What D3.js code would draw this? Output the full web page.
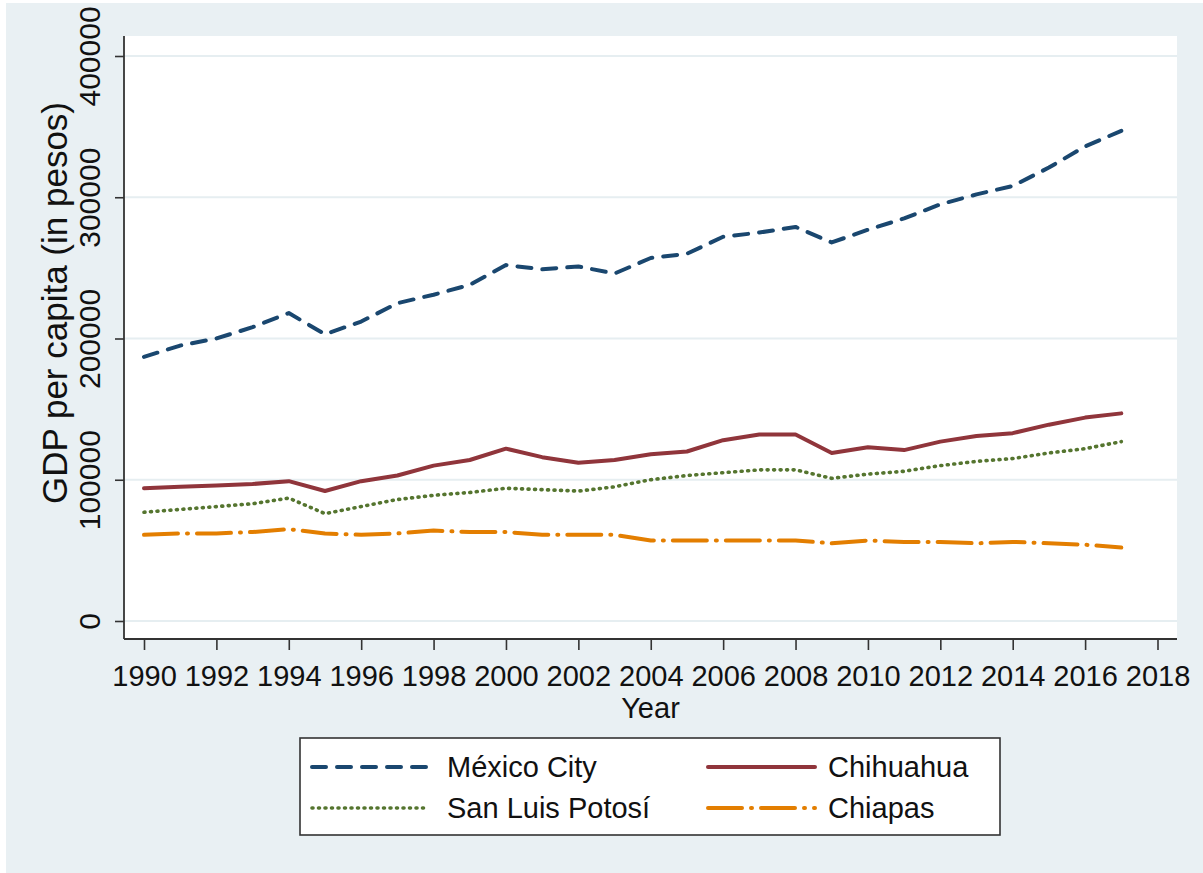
<!DOCTYPE html>
<html>
<head>
<meta charset="utf-8">
<script src="https://cdn.jsdelivr.net/npm/d3@7"></script>
<style>
  body { margin: 0; background: #fff; }
  text { font-family: "Liberation Sans", Arial, sans-serif; fill: #111; }
</style>
</head>
<body>
<div id="vis"></div>
<script>
'use strict'

// years on the x axis
const years = d3.range(1990, 2018)

// GDP per capita (pesos)
const mexico_city = [187000, 195000, 200000, 208000, 218000, 203000, 212000, 225000, 231000, 238000,
  252000, 249000, 251000, 246000, 257000, 260000, 272000, 275000, 279000, 268000,
  277000, 285000, 295000, 302000, 308000, 321000, 336000, 347000]
const chihuahua = [94000, 95000, 96000, 97000, 99000, 92000, 99000, 103000, 110000, 114000,
  122000, 116000, 112000, 114000, 118000, 120000, 128000, 132000, 132000, 119000,
  123000, 121000, 127000, 131000, 133000, 139000, 144000, 147000]
const san_luis = [77000, 79000, 81000, 83000, 87000, 76000, 81000, 86000, 89000, 91000,
  94000, 93000, 92000, 95000, 100000, 103000, 105000, 107000, 107000, 101000,
  104000, 106000, 110000, 113000, 115000, 119000, 122000, 127000]
const chiapas = [61000, 62000, 62000, 63000, 65000, 62000, 61000, 62000, 64000, 63000,
  63000, 61000, 61000, 61000, 57000, 57000, 57000, 57000, 57000, 55000,
  57000, 56000, 56000, 55000, 56000, 55000, 54000, 52000]

const y_ticks = [0, 100000, 200000, 300000, 400000]
const x_ticks = d3.range(1990, 2019, 2)

const series_names = ["México City", "Chihuahua", "San Luis Potosí", "Chiapas"]

function wrapper(){
  let width = 1203
  let height = 873

  let svg = d3.select("#vis").append("svg")
    .attr("width", width)
    .attr("height", height)

  // outer graph region
  svg.append("rect")
    .attr("x", 6).attr("y", 3)
    .attr("width", width - 6).attr("height", height - 3)
    .attr("fill", "#e9f0f3")

  let plot_left = 124, plot_right = 1177, plot_top = 36, plot_bottom = 639

  let x = d3.scaleLinear().domain([1990, 2018]).range([144, 1157.5])
  let y = d3.scaleLinear().domain([0, 400000]).range([621, 56])

  svg.append("rect")
    .attr("x", plot_left).attr("y", plot_top)
    .attr("width", plot_right - plot_left).attr("height", plot_bottom - plot_top)
    .attr("fill", "#fff")

  // grid lines
  svg.append("g").selectAll("line")
    .data(y_ticks)
    .join("line")
    .attr("x1", plot_left).attr("x2", plot_right)
    .attr("y1", d => y(d)).attr("y2", d => y(d))
    .attr("stroke", "#e6eef1")
    .attr("stroke-width", 2)

  // y axis
  let yAxis = svg.append("g")
    .attr("transform", "translate(" + plot_left + ",0)")
    .call(d3.axisLeft(y).tickValues(y_ticks).tickSize(9).tickFormat(d3.format("d")))
  yAxis.select(".domain").remove()
  yAxis.selectAll(".tick line").attr("stroke", "#333").attr("stroke-width", 1.6)
  yAxis.selectAll(".tick text")
    .attr("x", 0).attr("y", 0).attr("dy", null)
    .attr("transform", "translate(-24,0) rotate(-90)")
    .attr("text-anchor", "middle")
    .style("font-family", "Liberation Sans, Arial, sans-serif")
    .style("font-size", "30px")
    .attr("fill", "#111")

  // x axis
  let xAxis = svg.append("g")
    .attr("transform", "translate(0," + plot_bottom + ")")
    .call(d3.axisBottom(x).tickValues(x_ticks).tickSize(11).tickFormat(d3.format("d")))
  xAxis.select(".domain").remove()
  xAxis.selectAll(".tick line").attr("stroke", "#333").attr("stroke-width", 1.6)
  xAxis.selectAll(".tick text")
    .attr("y", 47).attr("dy", null)
    .style("font-family", "Liberation Sans, Arial, sans-serif")
    .style("font-size", "29px")
    .attr("fill", "#111")

  // axis lines
  svg.append("line")
    .attr("x1", plot_left).attr("x2", plot_left)
    .attr("y1", plot_top).attr("y2", plot_bottom)
    .attr("stroke", "#333").attr("stroke-width", 1.8)
  svg.append("line")
    .attr("x1", plot_left).attr("x2", plot_right)
    .attr("y1", plot_bottom).attr("y2", plot_bottom)
    .attr("stroke", "#333").attr("stroke-width", 1.8)

  // axis titles
  svg.append("text")
    .attr("transform", "translate(67,303) rotate(-90)")
    .attr("text-anchor", "middle")
    .style("font-size", "35px")
    .text("GDP per capita (in pesos)")

  svg.append("text")
    .attr("x", (plot_left + plot_right) / 2)
    .attr("y", 718)
    .attr("text-anchor", "middle")
    .style("font-size", "29px")
    .text("Year")

  const styles = {
    "México City": {values: mexico_city, color: "#1a476f", dash: "14,11", w: 4},
    "Chihuahua": {values: chihuahua, color: "#90353b", dash: null, w: 4},
    "San Luis Potosí": {values: san_luis, color: "#55752f", dash: "1,5.5", w: 3.6},
    "Chiapas": {values: chiapas, color: "#e37e00", dash: "34,9,1,9", w: 4}
  }

  let line = d3.line()
    .x((d, i) => x(years[i]))
    .y(d => y(d))

  svg.append("g").selectAll("path")
    .data(["Chiapas", "San Luis Potosí", "Chihuahua", "México City"])
    .join("path")
    .attr("d", d => line(styles[d].values))
    .attr("fill", "none")
    .attr("stroke", d => styles[d].color)
    .attr("stroke-width", d => styles[d].w)
    .attr("stroke-dasharray", d => styles[d].dash)
    .attr("stroke-linecap", "round")
    .attr("stroke-linejoin", "round")

  // legend
  let legend = svg.append("g")
  legend.append("rect")
    .attr("x", 300).attr("y", 738)
    .attr("width", 700).attr("height", 97)
    .attr("fill", "#fff")
    .attr("stroke", "#333")
    .attr("stroke-width", 1.6)

  let cols = [[312, 428, 447], [708, 815, 828]]
  let rows = [767, 808]

  let items = legend.selectAll(".item")
    .data(series_names)
    .join("g")
    .attr("class", "item")
    .attr("transform", function(d, i){
      return "translate(0," + rows[Math.floor(i / 2)] + ")"
    })

  items.append("line")
    .attr("x1", (d, i) => cols[i % 2][0])
    .attr("x2", (d, i) => cols[i % 2][1])
    .attr("y1", 0).attr("y2", 0)
    .attr("stroke", d => styles[d].color)
    .attr("stroke-width", d => styles[d].w)
    .attr("stroke-dasharray", d => styles[d].dash)
    .attr("stroke-linecap", "round")

  items.append("text")
    .attr("x", (d, i) => cols[i % 2][2])
    .attr("y", 0)
    .attr("dy", "0.36em")
    .style("font-size", "29px")
    .text(d => d)
}

wrapper()
</script>
</body>
</html>
